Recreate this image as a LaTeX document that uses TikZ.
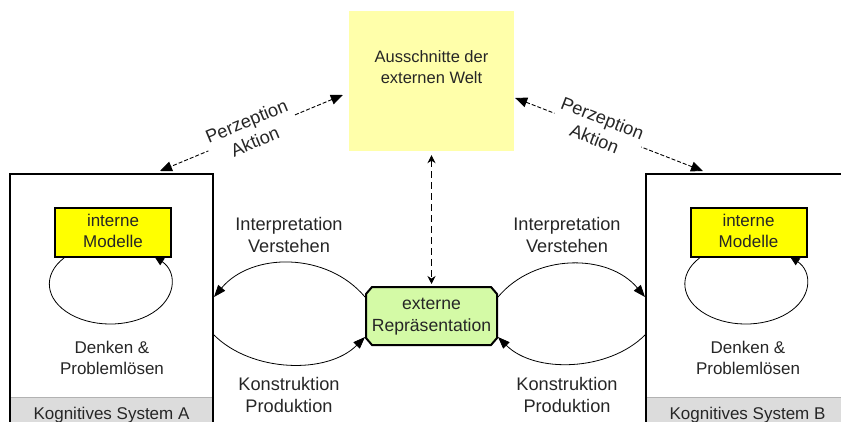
\documentclass[tikz,border=0pt]{standalone}
\usepackage{fontspec}
\setmainfont{Liberation Sans}
\usetikzlibrary{arrows.meta,backgrounds}
\newcommand\lnS{\rule[-4pt]{0pt}{16pt}}
\newcommand\lnL{\rule[-4pt]{0pt}{17pt}}
\definecolor{weltyellow}{RGB}{255,255,170}
\definecolor{modyellow}{RGB}{255,255,0}
\definecolor{repgreen}{RGB}{212,250,166}
\definecolor{stripgray}{RGB}{220,220,220}
\begin{document}
\begin{tikzpicture}[x=1pt,y=1pt,
  every node/.style={font=\fontsize{17}{21}\selectfont, text=black!85, inner sep=0pt, align=center},
  biglabel/.style={font=\fontsize{18.2}{22}\selectfont},
  sysbox/.style={draw, line width=2pt, minimum width=203pt, minimum height=256pt},
  strip/.style={fill=stripgray, draw=gray!60, line width=0.8pt, minimum width=203pt, minimum height=36pt, text height=12pt, text depth=4pt},
  modbox/.style={draw, line width=2pt, fill=modyellow, minimum width=116pt, minimum height=49pt},
  weltbox/.style={fill=weltyellow, minimum width=165pt, minimum height=140pt},
  repbox/.style={minimum width=131pt, minimum height=58pt, outer sep=1pt, font=\fontsize{17.6}{22}\selectfont},
  repshape/.style={line width=2pt, fill=repgreen, line join=miter},
  perz/.style={line width=0.9pt, dash pattern=on 4pt off 2pt, {Triangle[length=12pt,width=10pt]}-{Triangle[length=12pt,width=10pt]}},
  perzlabel/.style={biglabel, sloped, fill=white, inner sep=3pt},
  vdash/.style={line width=0.9pt, dash pattern=on 7pt off 4pt, {Stealth[length=8pt,width=8pt]}-{Stealth[length=8pt,width=8pt]}},
  selfarc/.style={line width=0.8pt, -{Triangle[length=10pt,width=8pt]}},
  flow/.style={line width=0.8pt, -{Triangle[length=12pt,width=9pt]}}
]
\useasboundingbox (0,0) rectangle (841,421);

% cognitive systems
\node[strip] (labA) at (111.5,6) {Kognitives System A};
\node[strip] (labB) at (747.5,6) {Kognitives System B};
\node[sysbox] (A) at (111.5,119) {};
\node[sysbox] (B) at (747.5,119) {};

\node[modbox] (inA) at (113,188.5) {\lnS interne\\\lnS Modelle};
\node[modbox] (inB) at (748.5,188.5) {\lnS interne\\\lnS Modelle};

\node (denkA) at (112,61.5) {\lnS Denken \&\\\lnS Problemlösen};
\node (denkB) at (748,61.5) {\lnS Denken \&\\\lnS Problemlösen};

% external world
\node[weltbox] (welt) at (431.5,340) {};
\node[font=\fontsize{16.5}{21}\selectfont] (weltT) at (431.5,351.8) {\lnS Ausschnitte der\\\lnS externen Welt};

% external representation (chamfered box)
\node[repbox] (rep) at (431.5,105) {\lnS externe\\\lnS Repräsentation};
\begin{scope}[on background layer]
\draw[repshape] ([xshift=7pt,yshift=-1pt]rep.north west) -- ([xshift=-7pt,yshift=-1pt]rep.north east)
  -- ([xshift=-1pt,yshift=-8pt]rep.north east) -- ([xshift=-1pt,yshift=8pt]rep.south east)
  -- ([xshift=-7pt,yshift=1pt]rep.south east) -- ([xshift=7pt,yshift=1pt]rep.south west)
  -- ([xshift=1pt,yshift=8pt]rep.south west) -- ([xshift=1pt,yshift=-8pt]rep.north west) -- cycle;
\end{scope}

% labels of the arcs
\node[biglabel] (interpA) at (289,184.5) {\lnL Interpretation\\\lnL Verstehen};
\node[biglabel] (interpB) at (567,184.5) {\lnL Interpretation\\\lnL Verstehen};
\node[biglabel] (konstrA) at (289,24.5) {\lnL Konstruktion\\\lnL Produktion};
\node[biglabel] (konstrB) at (567,24.5) {\lnL Konstruktion\\\lnL Produktion};

% perception / action
\draw[perz] ([xshift=-6pt,yshift=-14pt]welt.west) -- node[perzlabel] {\lnL Perzeption\\\lnL Aktion} ([xshift=48.5pt,yshift=2pt]A.north);
\draw[perz] ([xshift=1pt,yshift=-17pt]welt.east) -- node[perzlabel, pos=0.44] {\lnL Perzeption\\\lnL Aktion} ([xshift=-44.5pt,yshift=2pt]B.north);

% vertical link
\draw[vdash] ([yshift=-4pt]welt.south) -- ([yshift=2pt]rep.north);

% thinking loops
\draw[selfarc] ([xshift=10pt]inA.south west) arc[start angle=139.4, end angle=404, x radius=61pt, y radius=40pt];
\draw[selfarc] ([xshift=10pt]inB.south west) arc[start angle=139.4, end angle=404, x radius=61pt, y radius=40pt];

% interpretation / construction
\draw[flow] ([yshift=19pt]rep.west) to[out=130,in=50] ([yshift=5pt]A.east);
\draw[flow] ([yshift=-33pt]A.east) to[out=-45,in=-135,looseness=0.9] ([yshift=-21pt]rep.west);
\draw[flow] ([yshift=19pt]rep.east) to[out=50,in=130] ([yshift=5pt]B.west);
\draw[flow] ([yshift=-33pt]B.west) to[out=-135,in=-45,looseness=0.9] ([yshift=-21pt]rep.east);
\end{tikzpicture}
\end{document}
